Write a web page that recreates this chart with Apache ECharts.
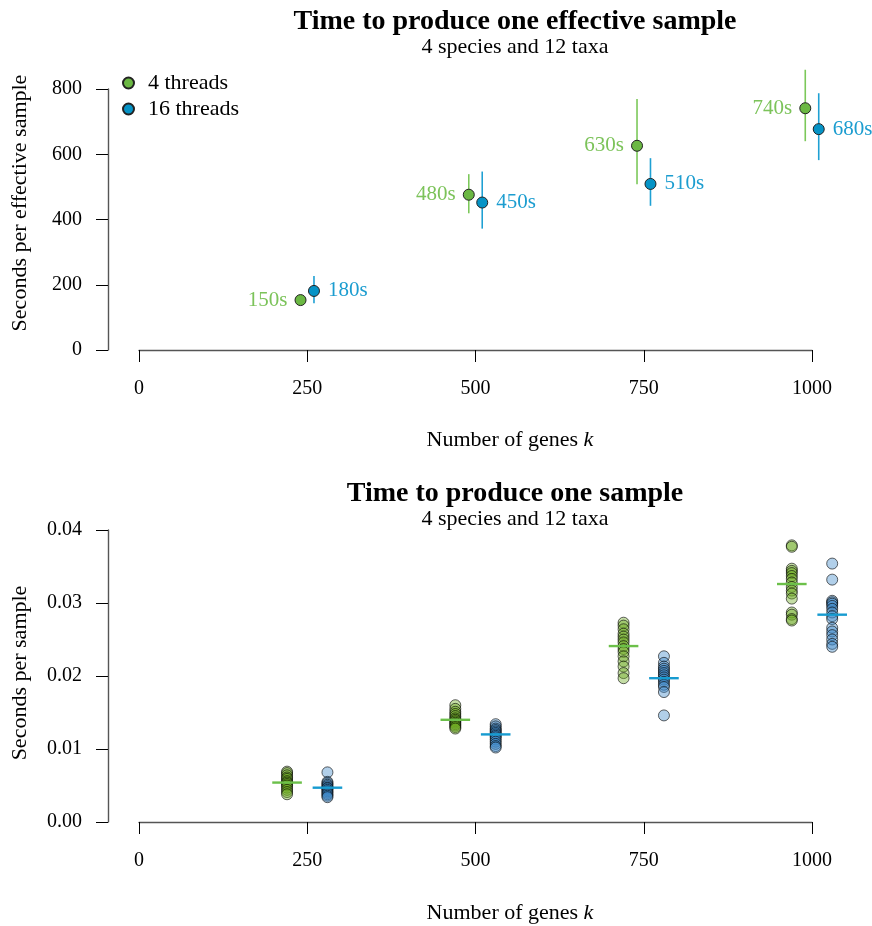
<!DOCTYPE html>
<html>
<head>
  <meta charset="utf-8" />
  <title>Time to produce samples</title>
  <style>
    body, html, #main {width: 100%; height: 100%; margin: 0; overflow: hidden; background: #fff;}
  </style>
  <script src="https://cdn.jsdelivr.net/npm/echarts@6/dist/echarts.min.js"></script>
</head>
<body>
<div id="main" style="width:872px;height:926px;"></div>
<script type="text/javascript">
// number of genes k
var kValues = [250, 500, 750, 1000];

// top panel: seconds per effective sample, with error bar ends
var effGreen   = [153, 476, 626, 741];
var effGreenLo = [147, 419, 508, 640];
var effGreenHi = [160, 539, 769, 859];
var effBlue    = [181, 452, 509, 677];
var effBlueLo  = [143, 372, 442, 582];
var effBlueHi  = [227, 547, 588, 787];

// bottom panel: seconds per sample, one array per k
var sampGreen = [
  [0.0069, 0.0067, 0.0064, 0.0061, 0.0059, 0.0056, 0.0054, 0.0052, 0.0050, 0.0047, 0.0044, 0.0041, 0.0038],
  [0.0160, 0.0155, 0.0151, 0.0148, 0.0145, 0.0142, 0.0140, 0.0138, 0.0136, 0.0134, 0.0132, 0.0130, 0.0128],
  [0.0273, 0.0269, 0.0264, 0.0258, 0.0254, 0.0250, 0.0246, 0.0241, 0.0237, 0.0233, 0.0227, 0.0220, 0.0213, 0.0204, 0.0197],
  [0.0379, 0.0377, 0.0347, 0.0344, 0.0341, 0.0337, 0.0333, 0.0328, 0.0322, 0.0317, 0.0313, 0.0306, 0.0287, 0.0284, 0.0278, 0.0276]
];
var sampBlue = [
  [0.0068, 0.0055, 0.0053, 0.0051, 0.0049, 0.0047, 0.0046, 0.0044, 0.0042, 0.0040, 0.0038, 0.0036, 0.0034],
  [0.0134, 0.0131, 0.0128, 0.0126, 0.0124, 0.0122, 0.0120, 0.0118, 0.0116, 0.0113, 0.0110, 0.0107, 0.0104, 0.0102],
  [0.0227, 0.0218, 0.0213, 0.0210, 0.0207, 0.0204, 0.0201, 0.0198, 0.0195, 0.0192, 0.0188, 0.0185, 0.0178, 0.0146],
  [0.0354, 0.0332, 0.0303, 0.0301, 0.0299, 0.0296, 0.0292, 0.0287, 0.0282, 0.0278, 0.0266, 0.0261, 0.0256, 0.0250, 0.0244, 0.0240]
];
var sampGreenMid = [0.0054, 0.0140, 0.0241, 0.0326];
var sampBlueMid  = [0.0047, 0.0120, 0.0197, 0.0284];

var FONT = '"Liberation Serif", serif';
var GREEN = '#6bb843', BLUE = '#0593c6';
var GREEN_BAR = '#7cc85a', BLUE_BAR = '#1fa0d3';
var GREEN_TXT = '#7cc35a', BLUE_TXT = '#1c9dd0';

// build series data
var effGreenPts = [], effBluePts = [], effGreenBars = [], effBlueBars = [];
kValues.forEach(function (k, i) {
  effGreenPts.push([k - 10, effGreen[i]]);
  effBluePts.push([k + 10, effBlue[i]]);
  effGreenBars.push([k - 10, effGreenLo[i], effGreenHi[i]]);
  effBlueBars.push([k + 10, effBlueLo[i], effBlueHi[i]]);
});
var sGreenPts = [], sBluePts = [], sGreenMid = [], sBlueMid = [];
kValues.forEach(function (k, i) {
  sampGreen[i].forEach(function (v) { sGreenPts.push([k - 30, v]); });
  sampBlue[i].forEach(function (v) { sBluePts.push([k + 30, v]); });
  sGreenMid.push([k - 30, sampGreenMid[i]]);
  sBlueMid.push([k + 30, sampBlueMid[i]]);
});

function errBar(color) {
  return function (params, api) {
    var a = api.coord([api.value(0), api.value(1)]);
    var b = api.coord([api.value(0), api.value(2)]);
    return {type: 'line', shape: {x1: a[0], y1: a[1], x2: b[0], y2: b[1]},
            style: {stroke: color, lineWidth: 1.6}};
  };
}
function midLine(color) {
  return function (params, api) {
    var p = api.coord([api.value(0), api.value(1)]);
    var half = api.size([22, 0])[0];
    return {type: 'line', shape: {x1: p[0] - half, y1: p[1], x2: p[0] + half, y2: p[1]},
            style: {stroke: color, lineWidth: 2.4}};
  };
}

function xAxisOf(gi) {
  return {
    gridIndex: gi, type: 'value', min: 0, max: 1000, interval: 250,
    axisLine: {show: true, onZero: false, lineStyle: {color: '#555', width: 1.4}},
    axisTick: {show: true, length: 12, lineStyle: {color: '#000', width: 1}},
    axisLabel: {margin: 29, color: '#000', fontSize: 20, fontFamily: FONT,
                formatter: function (v) { return String(v); }},
    splitLine: {show: false}
  };
}
function yAxisOf(gi, max, step, fmt) {
  return {
    gridIndex: gi, type: 'value', min: 0, max: max, interval: step, offset: 31,
    axisLine: {show: true, onZero: false, lineStyle: {color: '#555', width: 1.4}},
    axisTick: {show: true, length: 12, lineStyle: {color: '#000', width: 1}},
    axisLabel: {margin: 26, color: '#000', fontSize: 20, fontFamily: FONT, formatter: fmt},
    splitLine: {show: false}
  };
}
function axisTitle(y) {
  return {type: 'text', x: 510, y: y,
    style: {text: '{a|Number of genes }{b|k}', align: 'center', verticalAlign: 'middle',
            rich: {a: {fontFamily: FONT, fontSize: 22, color: '#000'},
                   b: {fontFamily: FONT, fontSize: 22, fontStyle: 'italic', color: '#000'}}}};
}

var chart = echarts.init(document.getElementById('main'), null, {renderer: 'canvas'});
var option = {
  animation: false,
  backgroundColor: '#fff',
  title: [
    {text: 'Time to produce one effective sample', subtext: '4 species and 12 taxa',
     left: 510, top: 3, textAlign: 'center', itemGap: 0,
     textStyle: {fontFamily: FONT, fontSize: 28, fontWeight: 'bold', color: '#000'},
     subtextStyle: {fontFamily: FONT, fontSize: 22, color: '#000'}},
    {text: 'Time to produce one sample', subtext: '4 species and 12 taxa',
     left: 510, top: 475, textAlign: 'center', itemGap: 0,
     textStyle: {fontFamily: FONT, fontSize: 28, fontWeight: 'bold', color: '#000'},
     subtextStyle: {fontFamily: FONT, fontSize: 22, color: '#000'}}
  ],
  legend: {
    data: ['4 threads', '16 threads'], orient: 'vertical', left: 117, top: 67, padding: 5,
    icon: 'circle', itemWidth: 11, itemHeight: 11, itemGap: 4,
    textStyle: {fontFamily: FONT, fontSize: 22, color: '#000', padding: [0, 0, 0, 9]}
  },
  grid: [
    {left: 139, width: 673, top: 89, height: 261},
    {left: 139, width: 673, top: 530, height: 292}
  ],
  xAxis: [xAxisOf(0), xAxisOf(1)],
  yAxis: [
    yAxisOf(0, 800, 200),
    yAxisOf(1, 0.04, 0.01, function (v) { return v.toFixed(2); })
  ],
  graphic: [
    {type: 'text', x: 20, y: 203, rotation: Math.PI / 2,
     style: {text: 'Seconds per effective sample', font: '22px ' + FONT, fill: '#000', align: 'center', verticalAlign: 'middle'}},
    {type: 'text', x: 20, y: 673, rotation: Math.PI / 2,
     style: {text: 'Seconds per sample', font: '22px ' + FONT, fill: '#000', align: 'center', verticalAlign: 'middle'}},
    axisTitle(440),
    axisTitle(913)
  ],
  series: [
    {name: 'effGreenBar', type: 'custom', xAxisIndex: 0, yAxisIndex: 0, clip: false,
     renderItem: errBar(GREEN_BAR), encode: {x: 0, y: [1, 2]}, data: effGreenBars, z: 2},
    {name: 'effBlueBar', type: 'custom', xAxisIndex: 0, yAxisIndex: 0, clip: false,
     renderItem: errBar(BLUE_BAR), encode: {x: 0, y: [1, 2]}, data: effBlueBars, z: 2},
    {name: '4 threads', type: 'scatter', xAxisIndex: 0, yAxisIndex: 0, clip: false,
     symbolSize: 11, data: effGreenPts, z: 3,
     itemStyle: {color: GREEN, borderColor: '#222', borderWidth: 1, opacity: 1},
     label: {show: true, position: 'left', distance: 7, color: GREEN_TXT, fontSize: 21, fontFamily: FONT,
             formatter: function (p) { return Math.round(p.value[1] / 10) * 10 + 's'; }}},
    {name: '16 threads', type: 'scatter', xAxisIndex: 0, yAxisIndex: 0, clip: false,
     symbolSize: 11, data: effBluePts, z: 3,
     itemStyle: {color: BLUE, borderColor: '#222', borderWidth: 1, opacity: 1},
     label: {show: true, position: 'right', distance: 8, color: BLUE_TXT, fontSize: 21, fontFamily: FONT,
             formatter: function (p) { return Math.round(p.value[1] / 10) * 10 + 's'; }}},
    {name: 'sampGreen', type: 'scatter', xAxisIndex: 1, yAxisIndex: 1, clip: false,
     symbolSize: 11, data: sGreenPts, z: 3,
     itemStyle: {color: 'rgba(107,171,31,0.5)', borderColor: 'rgba(0,0,0,0.75)', borderWidth: 1}},
    {name: 'sampBlue', type: 'scatter', xAxisIndex: 1, yAxisIndex: 1, clip: false,
     symbolSize: 11, data: sBluePts, z: 3,
     itemStyle: {color: 'rgba(59,135,199,0.5)', borderColor: 'rgba(0,0,0,0.75)', borderWidth: 1}},
    {name: 'sampGreenMid', type: 'custom', xAxisIndex: 1, yAxisIndex: 1, clip: false,
     renderItem: midLine('#6cc04a'), encode: {x: 0, y: 1}, data: sGreenMid, z: 4},
    {name: 'sampBlueMid', type: 'custom', xAxisIndex: 1, yAxisIndex: 1, clip: false,
     renderItem: midLine('#179bd0'), encode: {x: 0, y: 1}, data: sBlueMid, z: 4}
  ]
};
chart.setOption(option);
</script>
</body>
</html>
